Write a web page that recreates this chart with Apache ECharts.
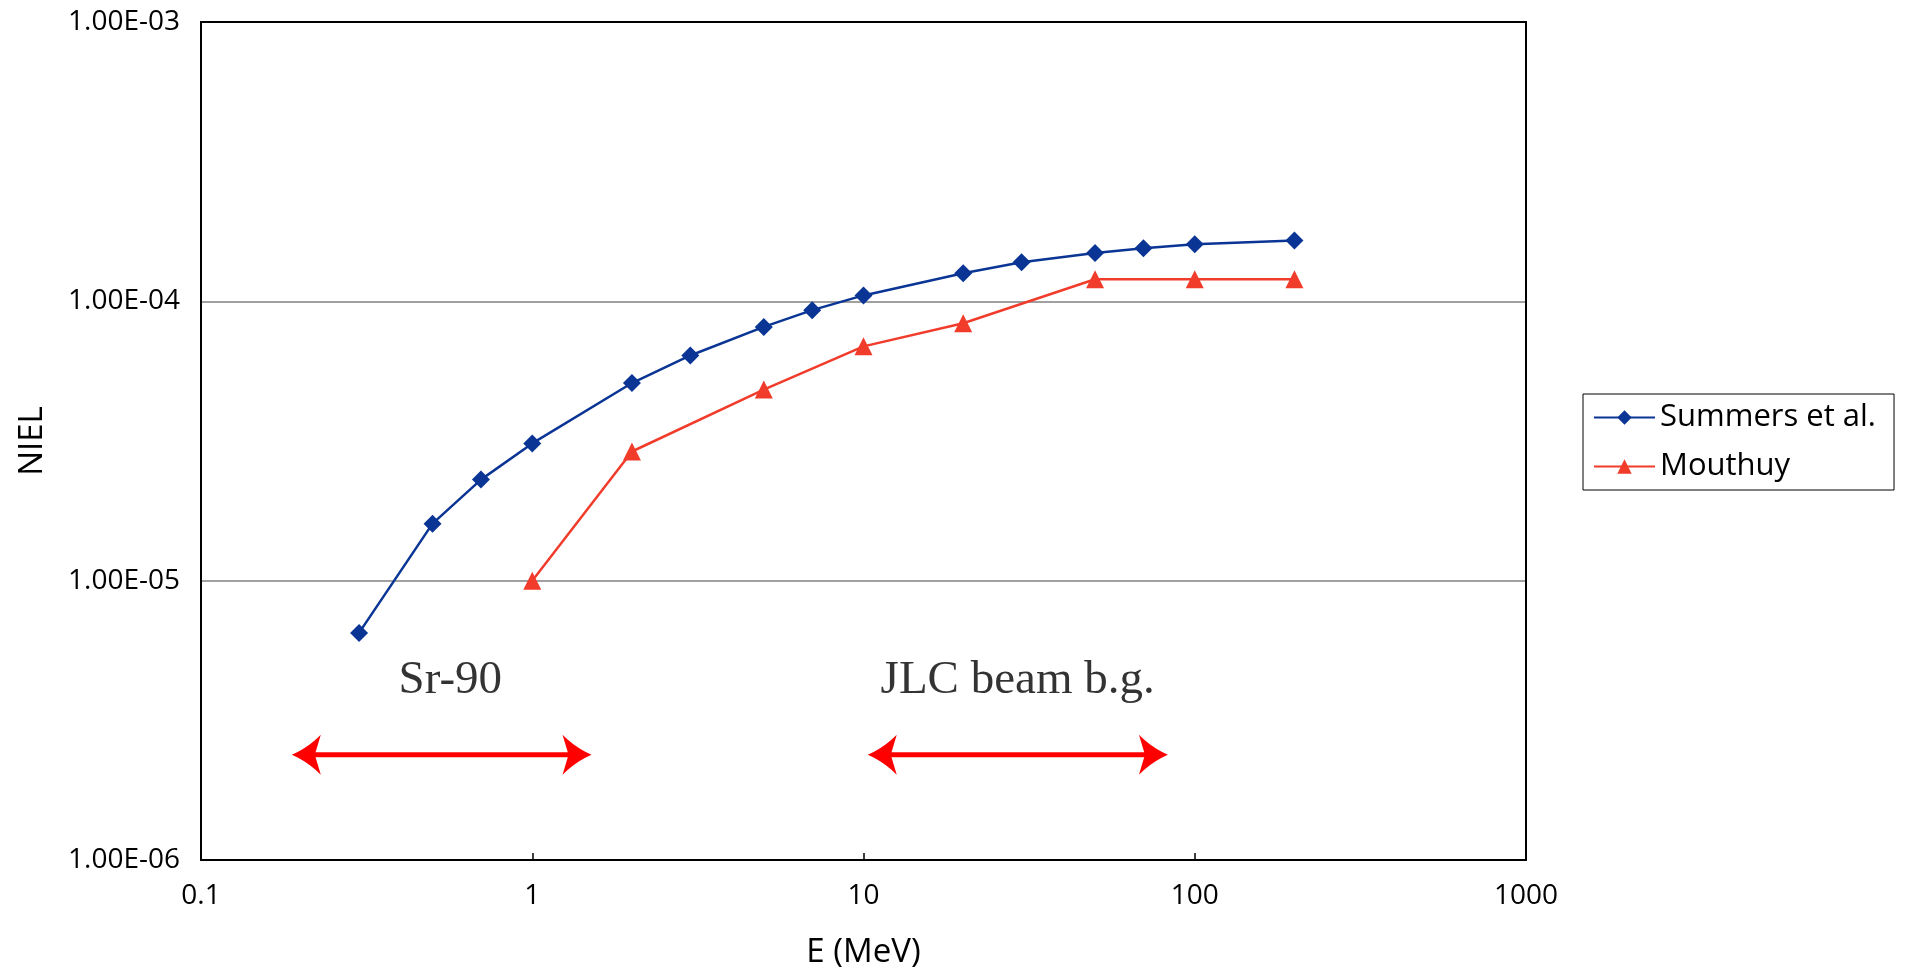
<!DOCTYPE html>
<html>
<head>
<meta charset="utf-8">
<title>NIEL vs E</title>
<script src="https://cdn.jsdelivr.net/npm/echarts@6/dist/echarts.min.js"></script>
<style>
  html, body { margin: 0; padding: 0; background: #fff; }
  #chart { width: 1907px; height: 974px; }
</style>
</head>
<body>
<div id="chart"></div>
<script>
// energies (MeV) and NIEL values
const summersE = [0.3, 0.5, 0.7, 1, 2, 3, 5, 7, 10, 20, 30, 50, 70, 100, 200];
const summersNiel = [6.5e-6, 1.6e-5, 2.3e-5, 3.1e-5, 5.1e-5, 6.4e-5, 8.1e-5, 9.3e-5, 1.05e-4, 1.26e-4, 1.38e-4, 1.49e-4, 1.55e-4, 1.6e-4, 1.65e-4];
const mouthuyE = [1, 2, 5, 10, 20, 50, 100, 200];
const mouthuyNiel = [1.0e-5, 2.9e-5, 4.83e-5, 6.9e-5, 8.35e-5, 1.2e-4, 1.2e-4, 1.2e-4];

// energy ranges marked with double arrows
const rangeNames = ['Sr-90', 'JLC beam b.g.'];
const rangeFrom = [0.188, 10.3];
const rangeTo = [1.51, 83];
const rangeLevel = [2.38e-6, 2.38e-6];
const labelE = [0.566, 29.2];
const labelNiel = [4.38e-6, 4.38e-6];

const xTicks = ['0.1', '1', '10', '100', '1000'];
const yTicks = ['1.00E-06', '1.00E-05', '1.00E-04', '1.00E-03'];

const BLUE = '#0A3594';
const RED = '#F23C2B';
const SANS = '"Open Sans", "Liberation Sans", sans-serif';

function pairs(xs, ys) {
  return xs.map((x, i) => [x, ys[i]]);
}

function yLabel(v) {
  const exp = Math.round(Math.log10(v));
  const hit = yTicks.find(t => Number(t) === Math.pow(10, exp));
  return hit || '';
}

function xLabel(v) {
  const s = String(+v.toPrecision(6));
  return xTicks.indexOf(s) >= 0 ? s : '';
}

// quadratic curve sampled into polygon points
function quad(p0, c, p1, n) {
  const out = [];
  for (let i = 1; i <= n; i++) {
    const t = i / n;
    const a = (1 - t) * (1 - t), b = 2 * (1 - t) * t, d = t * t;
    out.push([a * p0[0] + b * c[0] + d * p1[0], a * p0[1] + b * c[1] + d * p1[1]]);
  }
  return out;
}

// arrow head with concave sides, tip at (x, y), dir = +1 points right
function arrowHead(x, y, dir) {
  const L = 29, W = 20, N = 23;
  const tip = [x, y];
  const up = [x - dir * L, y - W];
  const dn = [x - dir * L, y + W];
  const notch = [x - dir * N, y];
  let pts = [tip];
  pts = pts.concat(quad(tip, [x - dir * 16, y - 7], up, 10));
  pts.push(notch);
  pts.push(dn);
  pts = pts.concat(quad(dn, [x - dir * 16, y + 7], tip, 10));
  return pts;
}

function renderArrow(params, api) {
  const a = api.coord([api.value(0), api.value(2)]);
  const b = api.coord([api.value(1), api.value(2)]);
  const style = { fill: '#FF0000' };
  return {
    type: 'group',
    children: [
      { type: 'line', shape: { x1: a[0] + 20, y1: a[1], x2: b[0] - 20, y2: b[1] },
        style: { stroke: '#FF0000', lineWidth: 5 } },
      { type: 'polygon', shape: { points: arrowHead(a[0], a[1], -1) }, style: style },
      { type: 'polygon', shape: { points: arrowHead(b[0], b[1], 1) }, style: style }
    ]
  };
}

const chart = echarts.init(document.getElementById('chart'));

const option = {
  backgroundColor: '#fff',
  animation: false,
  grid: { left: 201, top: 22, right: 381, bottom: 113, containLabel: false },
  legend: {
    orient: 'vertical',
    left: 1583,
    top: 394,
    padding: [8, 18, 8, 10],
    itemGap: 18,
    itemWidth: 61,
    itemHeight: 18,
    borderColor: '#000',
    borderWidth: 1,
    data: ['Summers et al.', 'Mouthuy'],
    textStyle: { fontFamily: SANS, fontSize: 31, color: '#000', lineHeight: 30 }
  },
  xAxis: [
    {
      type: 'log',
      logBase: 10,
      min: 0.1,
      max: 1000,
      name: 'E (MeV)',
      nameLocation: 'middle',
      nameGap: 76,
      nameTextStyle: { fontFamily: SANS, fontSize: 33, color: '#000' },
      axisLine: { show: true, lineStyle: { color: '#000', width: 2 } },
      axisTick: { show: true, inside: true, length: 7, lineStyle: { color: '#000', width: 1.5 } },
      axisLabel: { formatter: xLabel, fontFamily: SANS, fontSize: 28, color: '#000', margin: 22 },
      splitLine: { show: false },
      z: 5
    },
    {
      type: 'value', position: 'top', min: 0, max: 1,
      axisLine: { show: true, onZero: false, lineStyle: { color: '#000', width: 2 } },
      axisTick: { show: false }, axisLabel: { show: false }, splitLine: { show: false },
      z: 5
    }
  ],
  yAxis: [
    {
      type: 'log',
      logBase: 10,
      min: 1e-6,
      max: 1e-3,
      name: 'NIEL',
      nameLocation: 'middle',
      nameRotate: 90,
      nameGap: 152,
      nameTextStyle: { fontFamily: SANS, fontSize: 33, color: '#000' },
      axisLine: { show: true, lineStyle: { color: '#000', width: 2 } },
      axisTick: { show: false },
      axisLabel: { formatter: yLabel, fontFamily: SANS, fontSize: 28, color: '#000', margin: 21 },
      splitLine: { show: true, lineStyle: { color: '#808080', width: 1.5 } }
    },
    {
      type: 'value', position: 'right', min: 0, max: 1,
      axisLine: { show: true, onZero: false, lineStyle: { color: '#000', width: 2 } },
      axisTick: { show: false }, axisLabel: { show: false }, splitLine: { show: false },
      z: 5
    }
  ],
  series: [
    {
      name: 'Summers et al.',
      type: 'line',
      data: pairs(summersE, summersNiel),
      symbol: 'diamond',
      symbolSize: 18,
      itemStyle: { color: BLUE },
      lineStyle: { color: BLUE, width: 2.5 },
      z: 3
    },
    {
      name: 'Mouthuy',
      type: 'line',
      data: pairs(mouthuyE, mouthuyNiel),
      symbol: 'triangle',
      symbolSize: 18,
      itemStyle: { color: RED },
      lineStyle: { color: RED, width: 2.5 },
      z: 3
    },
    {
      name: 'ranges',
      type: 'custom',
      renderItem: renderArrow,
      data: rangeFrom.map((x, i) => [x, rangeTo[i], rangeLevel[i]]),
      silent: true
    },
    {
      name: 'range labels',
      type: 'scatter',
      symbolSize: 0,
      silent: true,
      data: rangeNames.map((n, i) => ({ name: n, value: [labelE[i], labelNiel[i]] })),
      label: {
        show: true,
        position: 'inside',
        formatter: p => p.name,
        fontFamily: '"Liberation Serif", "Times New Roman", serif',
        fontSize: 47,
        color: '#000',
        textBorderWidth: 0
      }
    }
  ]
};

chart.setOption(option);
</script>
</body>
</html>
